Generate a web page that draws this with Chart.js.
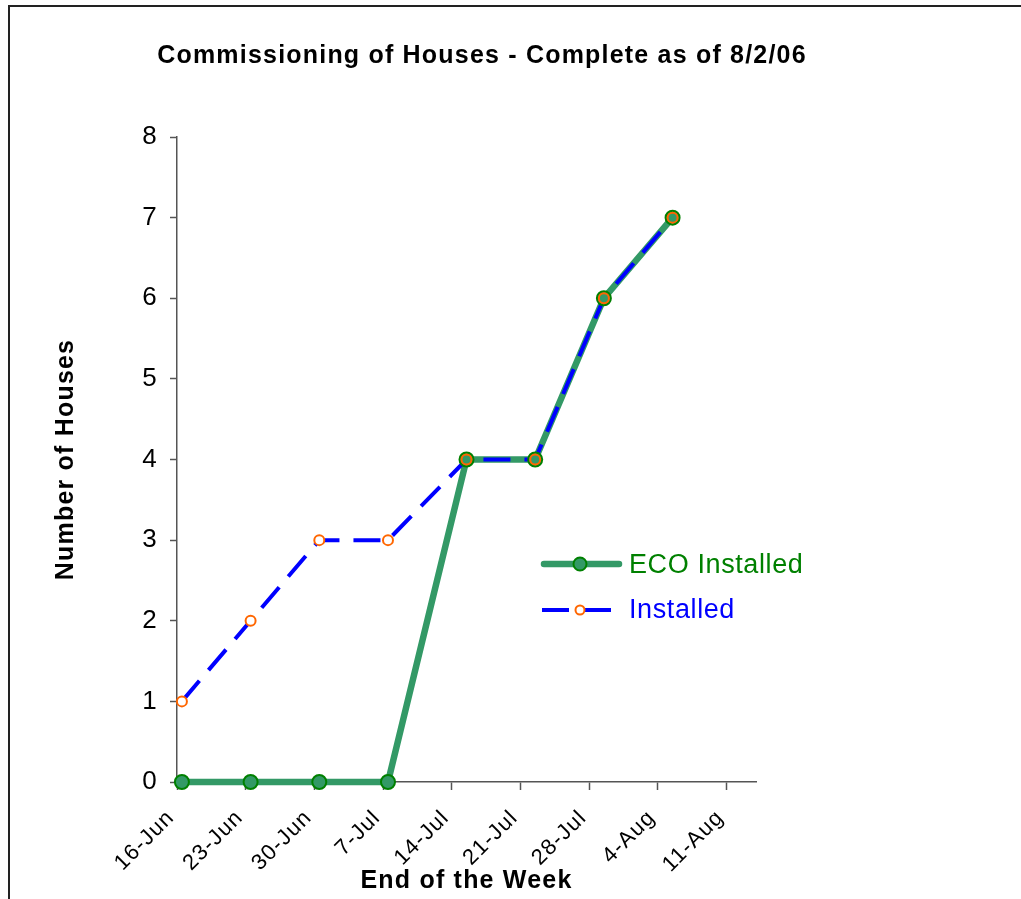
<!DOCTYPE html>
<html>
<head>
<meta charset="utf-8">
<title>Commissioning of Houses</title>
<script src="https://cdn.jsdelivr.net/npm/chart.js@4.4.1/dist/chart.umd.min.js"></script>
<style>
    html, body { margin: 0; padding: 0; background: #fff; overflow: hidden; }
    #frame { position: absolute; left: 8px; top: 5px; width: 1200px; height: 1200px; border: 2px solid #222; }
    #chart { position: absolute; left: 0; top: 0; }
</style>
</head>
<body>
<div id="frame"></div>
<canvas id="chart" width="1021" height="899"></canvas>
<script>
// weekly tick marks on the date axis
const tickDates = ['2006-06-16', '2006-06-23', '2006-06-30', '2006-07-07', '2006-07-14',
                   '2006-07-21', '2006-07-28', '2006-08-04', '2006-08-11'];
const tickLabels = ['16-Jun', '23-Jun', '30-Jun', '7-Jul', '14-Jul', '21-Jul', '28-Jul', '4-Aug', '11-Aug'];

// dates the counts were taken
const pointDates = ['2006-06-16', '2006-06-23', '2006-06-30', '2006-07-07',
                    '2006-07-15', '2006-07-22', '2006-07-29', '2006-08-05'];
const ecoInstalled = [0, 0, 0, 0, 4, 4, 6, 7];
const installed = [1, 2, 3, 3, 4, 4, 6, 7];

const DAY = 24 * 3600 * 1000;
const start = Date.parse(tickDates[0]);
const dayOf = d => Math.round((Date.parse(d) - start) / DAY);
const tickDays = tickDates.map(dayOf);

// Excel puts each point in the middle of its day
const toPoints = vals => vals.map((v, i) => ({ x: dayOf(pointDates[i]) + 0.5, y: v }));

const FONT = 'Arial, "Liberation Sans", sans-serif';
const GREEN = '#339966';
const DARK_GREEN = '#008000';
const BLUE = '#0000ff';
const ORANGE = '#ff6600';

const textPlugin = {
    id: 'textPlugin',
    beforeDraw(chart) {
        chart.ctx.letterSpacing = '1.2px';
    },
    afterDraw(chart) {
        const ctx = chart.ctx;
        ctx.save();
        ctx.letterSpacing = '1.2px';
        ctx.fillStyle = '#000';
        ctx.font = 'bold 25px ' + FONT;
        ctx.textAlign = 'center';
        ctx.textBaseline = 'middle';
        ctx.fillText('Commissioning of Houses - Complete as of 8/2/06', 482, 56);

        // legend
        ctx.letterSpacing = '0.6px';
        ctx.textAlign = 'left';
        ctx.font = '27px ' + FONT;

        ctx.strokeStyle = GREEN;
        ctx.lineWidth = 6.5;
        ctx.lineCap = 'round';
        ctx.beginPath();
        ctx.moveTo(544, 564);
        ctx.lineTo(619, 564);
        ctx.stroke();
        ctx.beginPath();
        ctx.arc(580, 564, 6.5, 0, Math.PI * 2);
        ctx.fillStyle = GREEN;
        ctx.fill();
        ctx.strokeStyle = DARK_GREEN;
        ctx.lineWidth = 2;
        ctx.stroke();
        ctx.fillStyle = DARK_GREEN;
        ctx.fillText('ECO Installed', 629, 566);

        ctx.lineCap = 'butt';
        ctx.strokeStyle = BLUE;
        ctx.lineWidth = 4;
        ctx.setLineDash([27, 15]);
        ctx.beginPath();
        ctx.moveTo(542, 610);
        ctx.lineTo(611, 610);
        ctx.stroke();
        ctx.setLineDash([]);
        ctx.beginPath();
        ctx.arc(580, 610, 4.5, 0, Math.PI * 2);
        ctx.fillStyle = '#fff';
        ctx.fill();
        ctx.strokeStyle = ORANGE;
        ctx.lineWidth = 2;
        ctx.stroke();
        ctx.fillStyle = BLUE;
        ctx.fillText('Installed', 629, 611);
        ctx.restore();
    }
};

// lines first, markers after (like Excel): the open orange rings sit on the green markers
const ctx = document.getElementById('chart').getContext('2d');
const chart = new Chart(ctx, {
    type: 'line',
    data: {
        datasets: [{
            label: 'ECO Installed',
            data: toPoints(ecoInstalled),
            borderColor: GREEN,
            borderWidth: 6.5,
            pointRadius: 0,
            tension: 0,
            clip: false,
            order: 4
        }, {
            label: 'Installed',
            data: toPoints(installed),
            borderColor: BLUE,
            borderWidth: 4,
            borderDash: [27, 14],
            pointRadius: 0,
            tension: 0,
            clip: false,
            order: 3
        }, {
            label: 'ECO Installed markers',
            data: toPoints(ecoInstalled),
            showLine: false,
            pointRadius: 7,
            pointBackgroundColor: GREEN,
            pointBorderColor: DARK_GREEN,
            pointBorderWidth: 2,
            clip: false,
            order: 2
        }, {
            label: 'Installed markers',
            data: toPoints(installed),
            showLine: false,
            pointRadius: 5,
            pointBackgroundColor: c => installed[c.dataIndex] === ecoInstalled[c.dataIndex] ? 'rgba(0,0,0,0)' : '#fff',
            pointBorderColor: ORANGE,
            pointBorderWidth: 2,
            clip: false,
            order: 1
        }]
    },
    options: {
        responsive: false,
        animation: false,
        layout: { padding: { top: 137, right: 265, bottom: 0, left: 0 } },
        plugins: {
            legend: { display: false },
            title: { display: false },
            tooltip: { enabled: false }
        },
        scales: {
            x: {
                type: 'linear',
                min: 0,
                max: 59,
                afterBuildTicks: s => { s.ticks = tickDays.map(v => ({ value: v })); },
                afterFit: s => { s.height = 117; },
                ticks: {
                    autoSkip: false,
                    minRotation: 45,
                    maxRotation: 45,
                    padding: 15,
                    labelOffset: -6,
                    color: '#000',
                    font: { family: FONT, size: 22 },
                    callback: v => tickLabels[tickDays.indexOf(v)]
                },
                grid: { drawOnChartArea: false, tickLength: 8, tickColor: '#555', tickWidth: 1.5 },
                border: { color: '#555', width: 1.5 },
                title: {
                    display: true,
                    text: 'End of the Week',
                    color: '#000',
                    font: { family: FONT, size: 25, weight: 'bold' },
                    padding: { top: 0, bottom: 3 }
                }
            },
            y: {
                min: 0,
                max: 8,
                afterFit: s => { s.width = 177; },
                ticks: {
                    stepSize: 1,
                    padding: 12,
                    color: '#000',
                    font: { family: FONT, size: 26 }
                },
                grid: { drawOnChartArea: false, tickLength: 7, tickColor: '#555', tickWidth: 1.5 },
                border: { color: '#555', width: 1.5 },
                title: {
                    display: true,
                    text: 'Number of Houses',
                    color: '#000',
                    font: { family: FONT, size: 25, weight: 'bold' },
                    padding: { top: 51, bottom: 0 }
                }
            }
        }
    },
    plugins: [textPlugin]
});
</script>
</body>
</html>
